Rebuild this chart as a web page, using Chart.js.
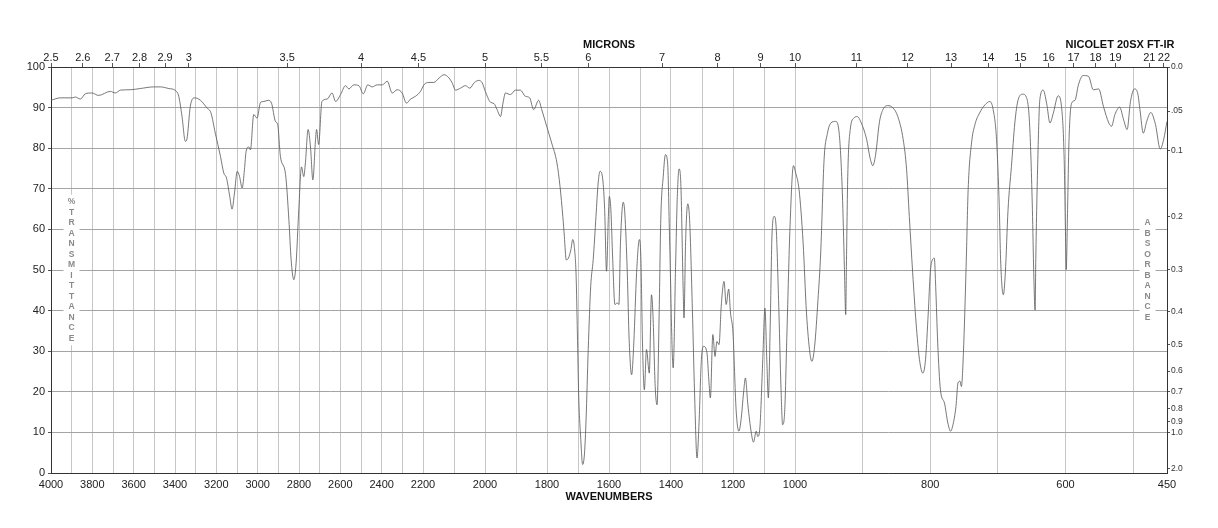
<!DOCTYPE html>
<html>
<head>
<meta charset="utf-8">
<script src="https://cdn.jsdelivr.net/npm/chart.js@4.4.1/dist/chart.umd.min.js"></script>
<style>
  html, body { margin: 0; padding: 0; background: #fff; }
</style>
</head>
<body>
<canvas id="ir" width="1218" height="528"></canvas>
<script>
// spectrum (cm-1, %T)
const wavenumbers = [
  4000,3955,3898,3882,3858,3834,3802,3770,3713,3689,3664,3616,3568,3503,3471,3430,3398,3382,3366,3350,
  3342,3326,3306,3277,3245,3226,3205,3180,3164,3151,3135,3124,3112,3099,3088,3075,3064,3056,3043,3035,
  3019,3003,2986,2970,2949,2933,2914,2903,2890,2865,2849,2838,2825,2814,2801,2788,2777,2769,2756,2744,
  2733,2720,2715,2705,2689,2664,2640,2623,2599,2575,2559,2535,2510,2489,2467,2446,2422,2397,2373,2349,
  2325,2301,2280,2260,2236,2212,2197,2181,2165,2148,2132,2116,2106,2095,2079,2063,2049,2034,2020,2009,
  1999,1982,1971,1961,1950,1942,1934,1918,1902,1886,1870,1856,1843,1827,1817,1801,1785,1768,1758,1749,
  1744,1738,1731,1723,1717,1712,1706,1702,1698,1691,1685,1679,1674,1667,1659,1651,1642,1635,1629,1620,
  1614,1608,1602,1599,1594,1588,1581,1573,1568,1563,1554,1549,1541,1535,1527,1520,1511,1502,1497,1492,
  1486,1479,1470,1463,1458,1451,1445,1438,1433,1425,1418,1411,1404,1393,1385,1380,1374,1368,1361,1358,
  1353,1346,1340,1331,1324,1316,1310,1302,1295,1284,1278,1273,1265,1258,1252,1245,1238,1229,1222,1214,
  1208,1200,1190,1181,1174,1166,1160,1152,1141,1134,1125,1120,1113,1104,1097,1091,1086,1080,1074,1067,
  1061,1053,1045,1040,1033,1026,1016,1005,999,994,988,983,978,975,971,966,962,957,952,947,
  940,935,930,927,925,924,922,918,913,908,902,894,889,885,881,875,870,863,855,848,
  840,835,831,826,821,816,811,807,803,800,797,794,792,789,785,779,774,770,767,762,
  759,756,754,751,747,744,739,734,727,719,712,707,702,698,696,692,689,685,680,675,
  670,663,658,653,649,647,645,644,641,638,633,628,623,618,611,606,602,600,599,597,
  595,591,586,581,574,566,559,551,544,536,532,527,520,514,509,504,498,493,490,485,
  480,474,467,460,455,450
];
const transmittance = [
  91.8,92.4,92.4,92.6,92.1,93.4,93.6,93.0,94.0,93.6,94.3,94.4,94.7,95.1,95.1,94.7,94.2,92.8,87.8,81.7,
  82.3,90.3,92.4,91.8,89.9,88.7,83.7,78.0,73.9,72.7,68.1,65.0,69.0,74.3,73.1,70.2,74.7,79.2,80.3,79.6,
  88.3,87.4,91.3,91.5,91.8,91.1,86.6,85.8,78.0,73.5,62.4,52.5,47.6,51.7,64.9,75.4,73.0,76.4,84.6,80.0,
  72.2,82.1,84.6,80.9,91.5,92.1,93.6,91.5,93.2,95.4,94.6,95.6,95.4,93.4,95.6,95.1,95.6,95.6,96.5,93.6,
  94.4,93.6,91.1,92.1,92.8,94.0,95.6,96.2,96.2,97.3,98.1,97.3,96.1,94.3,94.8,95.4,94.8,96.2,96.7,96.1,
  94.0,91.3,91.0,89.5,87.8,91.1,93.6,93.2,94.3,94.3,92.8,92.4,89.5,91.8,89.5,85.4,81.3,76.4,70.6,63.2,
  58.3,52.5,52.9,55.0,57.5,55.8,48.4,34.5,19.7,8.2,2.1,4.9,13.1,30.4,46.0,52.5,63.2,71.4,74.3,72.2,
  64.9,49.7,63.2,68.1,64.9,52.5,41.5,41.9,41.5,56.7,66.7,64.0,49.3,32.8,24.2,32.0,49.3,57.5,52.5,32.0,
  20.5,30.4,24.6,43.9,38.6,21.3,16.8,40.2,62.4,73.1,78.4,76.4,55.8,25.9,51.7,67.3,74.9,70.6,46.0,38.2,
  56.7,66.3,62.4,40.2,19.7,3.7,11.5,27.9,31.2,29.6,23.0,18.5,34.1,28.7,32.4,31.6,41.1,47.2,41.5,45.3,
  39.4,34.5,15.6,10.3,13.1,19.7,23.4,16.8,9.9,7.6,10.3,9.0,11.5,27.9,40.6,27.9,18.5,36.1,59.1,63.2,
  60.8,42.7,20.5,11.9,15.6,34.5,60.8,75.7,73.9,69.8,56.7,39.4,29.6,27.5,31.2,42.7,54.2,77.2,83.7,86.2,
  86.6,84.2,69.0,50.9,39.0,50.9,73.1,85.0,87.4,87.8,86.2,82.1,77.6,75.7,78.2,86.6,89.5,90.5,89.9,87.8,
  82.1,74.7,63.2,49.3,37.0,28.0,24.6,28.0,39.4,49.3,52.5,52.9,46.0,32.0,20.5,17.2,12.3,10.3,11.5,16.4,
  22.2,22.6,21.3,29.6,50.9,69.8,81.3,85.8,88.7,90.7,91.5,89.5,82.1,65.7,52.5,43.9,49.3,64.9,75.5,86.2,
  92.0,93.3,92.6,85.4,64.9,49.3,40.1,52.5,77.2,92.0,94.3,91.1,86.2,88.7,92.9,90.3,77.2,58.3,50.1,64.9,
  81.3,91.1,91.8,95.6,97.9,97.7,94.4,94.6,90.3,86.2,85.4,88.3,90.1,86.9,84.6,91.5,94.6,93.3,89.5,83.7,
  86.6,88.8,85.8,79.8,82.1,86.6
];

// axis ticks
const wnGridLines = [4000,3900,3800,3700,3600,3500,3400,3300,3200,3100,3000,2900,2800,2700,2600,2500,
  2400,2300,2200,2100,2000,1900,1800,1700,1600,1500,1400,1300,1200,1100,1000,900,800,700,600,500,450];
const wnLabelled = [4000,3800,3600,3400,3200,3000,2800,2600,2400,2200,2000,1800,1600,1400,1200,1000,800,600,450];
const micronTicks = [2.5,2.6,2.7,2.8,2.9,3,3.5,4,4.5,5,5.5,6,7,8,9,10,11,12,13,14,15,16,17,18,19,21,22];
const absTicks  = [0, 0.05, 0.1, 0.2, 0.3, 0.4, 0.5, 0.6, 0.7, 0.8, 0.9, 1.0, 2.0];
const absLabels = ['0.0','.05','0.1','0.2','0.3','0.4','0.5','0.6','0.7','0.8','0.9','1.0','2.0'];

// chart paper changes its cm-1 scale at 2200 and 1000
const breaks = [4000, 2200, 1000, 450];

function toU(wn) {
  for (let i = 0; i < breaks.length - 1; i++) {
    if (wn >= breaks[i + 1] || i === breaks.length - 2) {
      return i + (breaks[i] - wn) / (breaks[i] - breaks[i + 1]);
    }
  }
  return 0;
}

function fromU(u) {
  const i = Math.min(Math.max(Math.floor(u), 0), breaks.length - 2);
  return breaks[i] - (u - i) * (breaks[i] - breaks[i + 1]);
}

const Linear = Chart.LinearScale || Chart.registry.getScale('linear');
class WavenumberScale extends Linear {
  getPixelForValue(v) { return this.getPixelForDecimal(toU(v) / (breaks.length - 1)); }
  getValueForPixel(p) { return fromU(this.getDecimalForPixel(p) * (breaks.length - 1)); }
}
WavenumberScale.id = 'wavenumber';
WavenumberScale.defaults = {};
Chart.register(WavenumberScale);

const FONT = "'Liberation Sans', Arial, sans-serif";

function drawStack(ctx, text, x, yc) {
  const step = 10.5;
  const n = text.length;
  const y0 = yc - (n - 1) / 2 * step;
  ctx.save();
  ctx.fillStyle = '#fff';
  ctx.fillRect(x - 8, y0 - 7, 16, (n - 1) * step + 14);
  ctx.fillStyle = '#8a8a8a';
  ctx.font = 'bold 8.5px ' + FONT;
  ctx.textAlign = 'center';
  ctx.textBaseline = 'middle';
  for (let i = 0; i < n; i++) ctx.fillText(text[i], x, y0 + i * step);
  ctx.restore();
}

const paperText = {
  id: 'paperText',
  beforeDatasetsDraw(chart) {
    const { ctx, chartArea, scales } = chart;
    const yc = scales.y.getPixelForValue(50);
    drawStack(ctx, '%TRANSMITTANCE', chartArea.left + 20.5, yc);
    drawStack(ctx, 'ABSORBANCE', chartArea.right - 19.5, yc);
  },
  afterDraw(chart) {
    const ctx = chart.ctx;
    ctx.save();
    ctx.fillStyle = '#111';
    ctx.font = 'bold 11px ' + FONT;
    ctx.textAlign = 'center';
    ctx.textBaseline = 'middle';
    ctx.fillText('NICOLET 20SX FT-IR', 1120, 45);
    ctx.restore();
  }
};

new Chart(document.getElementById('ir'), {
  type: 'line',
  data: {
    datasets: [{
      data: wavenumbers.map((w, i) => ({ x: w, y: transmittance[i] })),
      borderColor: '#555',
      borderWidth: 0.8,
      pointRadius: 0,
      cubicInterpolationMode: 'monotone',
      xAxisID: 'x',
      yAxisID: 'y'
    }]
  },
  options: {
    responsive: false,
    animation: false,
    layout: { padding: 0 },
    plugins: { legend: { display: false }, tooltip: { enabled: false } },
    scales: {
      x: {
        type: 'wavenumber',
        position: 'bottom',
        min: 450, max: 4000,
        afterBuildTicks: s => { s.ticks = wnGridLines.map(v => ({ value: v })); },
        afterFit: s => { s.height = 55; },
        ticks: {
          autoSkip: false, maxRotation: 0, padding: 5,
          color: '#222', font: { family: FONT, size: 11 },
          callback: v => wnLabelled.includes(v) ? String(v) : ''
        },
        grid: { color: '#c6c6c6', drawTicks: false },
        border: { color: '#333' },
        title: {
          display: true, text: 'WAVENUMBERS', color: '#111',
          font: { family: FONT, size: 11, weight: 'bold' },
          padding: { top: 0, bottom: 24.7 }
        }
      },
      microns: {
        type: 'wavenumber',
        position: 'top',
        min: 450, max: 4000,
        afterBuildTicks: s => { s.ticks = micronTicks.map(m => ({ value: 10000 / m })); },
        afterFit: s => { s.height = 67; },
        ticks: {
          autoSkip: false, maxRotation: 0, padding: -2,
          color: '#222', font: { family: FONT, size: 11 },
          callback: (v, i) => String(micronTicks[i])
        },
        grid: { drawOnChartArea: false, tickLength: 4, tickColor: '#555' },
        border: { color: '#333' },
        title: {
          display: true, text: 'MICRONS', color: '#111',
          font: { family: FONT, size: 11, weight: 'bold' },
          padding: { top: 38.4, bottom: 0 }
        }
      },
      y: {
        position: 'left',
        min: 0, max: 100,
        afterFit: s => { s.width = 51; },
        ticks: { stepSize: 10, padding: 3, color: '#222', font: { family: FONT, size: 11 } },
        grid: { color: '#a4a4a4', tickLength: 3, tickColor: '#555' },
        border: { color: '#333' }
      },
      abs: {
        position: 'right',
        min: 0, max: 100,
        afterBuildTicks: s => { s.ticks = absTicks.map(a => ({ value: 100 * Math.pow(10, -a) })); },
        afterFit: s => { s.width = 51; },
        ticks: {
          autoSkip: false, padding: 1,
          color: '#333', font: { family: FONT, size: 8.5 },
          callback: (v, i) => absLabels[i]
        },
        grid: { drawOnChartArea: false, tickLength: 3, tickColor: '#555' },
        border: { color: '#333' }
      }
    }
  },
  plugins: [paperText]
});
</script>
</body>
</html>
